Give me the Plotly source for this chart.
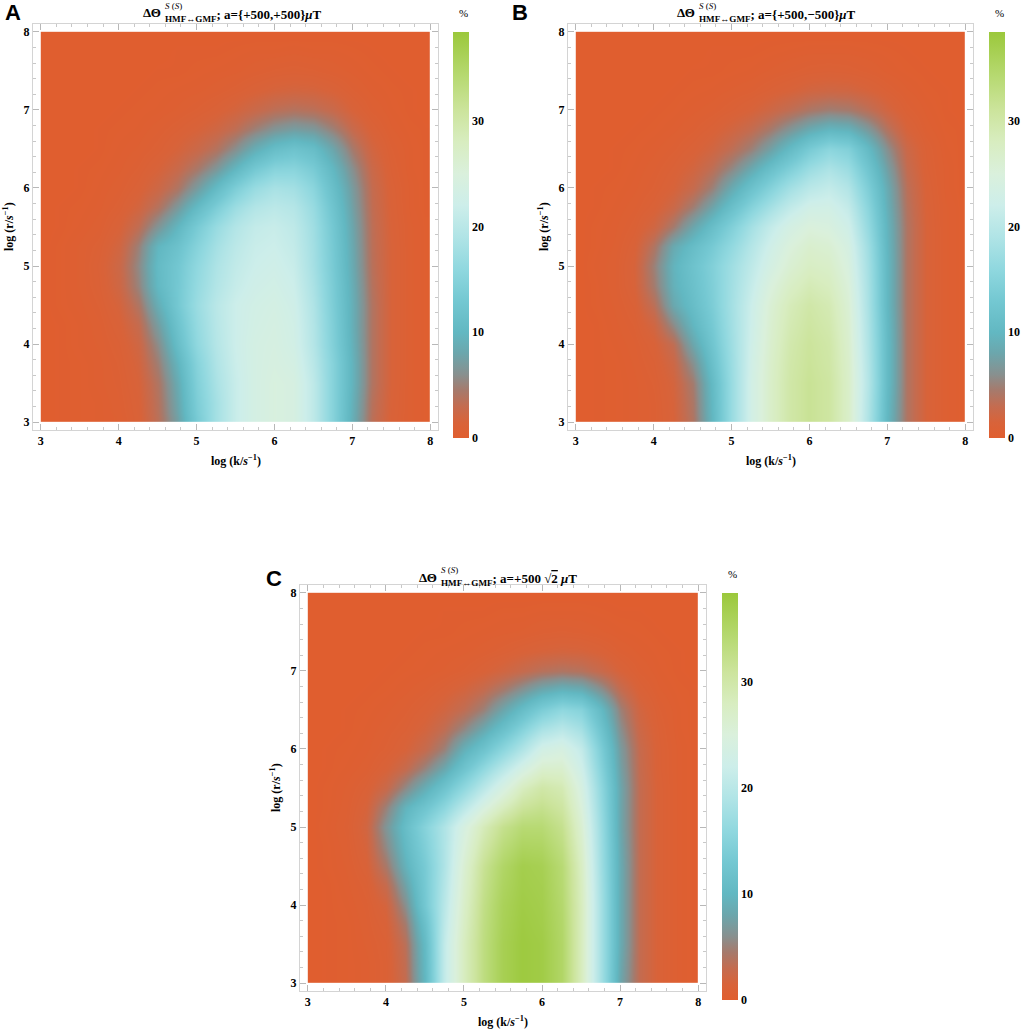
import plotly.graph_objects as go

# ---------------- data ----------------
log_k = [3.0, 3.25, 3.5, 3.75, 4.0, 4.25, 4.5, 4.75, 5.0, 5.25, 5.5,
         5.75, 6.0, 6.25, 6.5, 6.75, 7.0, 7.25, 7.5, 7.75, 8.0]
log_r = [3.0, 3.25, 3.5, 3.75, 4.0, 4.25, 4.5, 4.75, 5.0, 5.25, 5.5,
         5.75, 6.0, 6.25, 6.5, 6.75, 7.0, 7.25, 7.5, 7.75, 8.0]

# rows: log_r ascending, columns: log_k ascending ; values in %
z_A = [
    [0, 0.1, 0.2, 0.3, 0.5, 1.2, 3.5, 7.5, 13.5, 18, 21.5, 23.5, 24.5, 24, 20.5, 15, 9, 3.5, 1.3, 0.5, 0.2],
    [0, 0.1, 0.2, 0.3, 0.6, 1.3, 3.7, 8, 14, 18, 21.5, 23.5, 24.5, 24, 20.5, 15, 9.2, 3.7, 1.4, 0.5, 0.2],
    [0, 0.1, 0.2, 0.4, 0.7, 1.5, 4, 8.5, 14.5, 18.5, 21.5, 23.5, 24.5, 24, 20.5, 15, 9.5, 4, 1.5, 0.5, 0.2],
    [0, 0.1, 0.2, 0.4, 0.8, 1.8, 4.8, 9.5, 15, 19, 21.8, 23.5, 24.2, 23.5, 20, 15, 9.5, 4, 1.5, 0.5, 0.2],
    [0, 0.1, 0.3, 0.5, 1, 2.2, 5.8, 11, 16, 19.5, 22, 23.5, 24, 23, 19.5, 14.5, 9.2, 4, 1.5, 0.5, 0.2],
    [0, 0.1, 0.3, 0.6, 1.3, 2.9, 7.2, 12, 16.5, 19.8, 22, 23.2, 23.8, 22.8, 19.3, 14.3, 9, 4, 1.5, 0.5, 0.2],
    [0, 0.2, 0.4, 0.8, 1.7, 4, 8.8, 13, 17, 20, 22, 23, 23.5, 22.5, 19, 14, 9, 4, 1.5, 0.5, 0.2],
    [0, 0.2, 0.5, 1, 2.2, 5.2, 10.2, 13, 16.5, 19.3, 21.3, 22.5, 23, 22, 18.5, 13.8, 8.8, 3.8, 1.5, 0.5, 0.2],
    [0, 0.2, 0.5, 1.1, 2.4, 5.6, 10.5, 12.8, 16, 18.8, 20.8, 22, 22.5, 21.5, 18, 13.5, 8.5, 3.6, 1.5, 0.5, 0.2],
    [0, 0.2, 0.5, 0.9, 2, 5, 9.8, 11.8, 15, 18, 20.2, 21.6, 22, 21, 17.8, 13.3, 8.3, 3.5, 1.5, 0.5, 0.2],
    [0, 0.1, 0.3, 0.6, 1.4, 3.2, 6.5, 9.8, 13.5, 16.8, 19.3, 21, 21.5, 20.5, 17.5, 13, 8, 3.4, 1.4, 0.5, 0.2],
    [0, 0.1, 0.2, 0.4, 0.9, 1.9, 3.8, 6.8, 10.5, 14, 17.2, 19.3, 20.2, 19.5, 16.8, 12.3, 7.5, 3.2, 1.3, 0.4, 0.1],
    [0, 0, 0.1, 0.3, 0.6, 1.2, 2.3, 4, 7, 10.5, 14, 16.8, 18.3, 17.8, 15.5, 11.3, 7, 3, 1.2, 0.4, 0.1],
    [0, 0, 0.1, 0.2, 0.4, 0.8, 1.5, 2.6, 4.3, 6.6, 9.8, 13, 15, 15.2, 13.5, 10, 6, 2.6, 1, 0.3, 0.1],
    [0, 0, 0, 0.1, 0.3, 0.5, 0.9, 1.6, 2.5, 3.8, 6, 8.8, 11, 12, 11, 8, 4.5, 2, 0.8, 0.3, 0.1],
    [0, 0, 0, 0.1, 0.2, 0.3, 0.6, 1, 1.5, 2.2, 3.3, 5, 6.5, 7.3, 6.8, 5, 2.8, 1.3, 0.5, 0.2, 0.1],
    [0, 0, 0, 0, 0.1, 0.2, 0.3, 0.5, 0.8, 1.2, 1.8, 2.6, 3.4, 3.8, 3.5, 2.7, 1.5, 0.7, 0.3, 0.1, 0],
    [0, 0, 0, 0, 0, 0.1, 0.2, 0.3, 0.4, 0.6, 0.9, 1.3, 1.7, 1.9, 1.8, 1.4, 0.8, 0.4, 0.2, 0.1, 0],
    [0, 0, 0, 0, 0, 0, 0.1, 0.1, 0.2, 0.3, 0.4, 0.6, 0.8, 0.9, 0.8, 0.6, 0.4, 0.2, 0.1, 0, 0],
    [0, 0, 0, 0, 0, 0, 0, 0.1, 0.1, 0.1, 0.2, 0.3, 0.3, 0.4, 0.3, 0.3, 0.2, 0.1, 0, 0, 0],
    [0, 0, 0, 0, 0, 0, 0, 0, 0, 0, 0, 0, 0, 0, 0, 0, 0, 0, 0, 0, 0],
]

z_B = [
    [0, 0.1, 0.2, 0.4, 0.7, 1.5, 4, 10, 17, 23, 27, 30, 31.5, 30.5, 27, 19, 10, 4, 1.5, 0.5, 0.2],
    [0, 0.1, 0.2, 0.4, 0.7, 1.6, 4.2, 10.2, 17, 23, 27, 30, 31.5, 30.5, 27, 19.2, 10.2, 4, 1.5, 0.5, 0.2],
    [0, 0.1, 0.2, 0.4, 0.8, 1.8, 4.6, 10.5, 17, 23, 27, 30, 31.5, 30.5, 27, 19.5, 10.5, 4, 1.5, 0.5, 0.2],
    [0, 0.1, 0.2, 0.5, 1, 2.3, 6, 11.5, 17.2, 22.8, 26.8, 29.8, 31.2, 30.2, 26.8, 19.3, 10.5, 4, 1.5, 0.5, 0.2],
    [0, 0.1, 0.3, 0.6, 1.3, 3.2, 8, 12.5, 17.5, 22.5, 26.5, 29.5, 31, 30, 26.5, 19, 10.5, 4, 1.5, 0.5, 0.2],
    [0, 0.1, 0.4, 0.8, 2.1, 5.7, 9.8, 13.3, 17.8, 22.2, 26.2, 29, 30.5, 29.5, 26.2, 18.8, 10.3, 4, 1.5, 0.5, 0.2],
    [0, 0.2, 0.5, 1.1, 3.4, 8.2, 11, 14, 18, 22, 25.8, 28.5, 30, 29, 25.8, 18.5, 10, 4, 1.5, 0.5, 0.2],
    [0, 0.2, 0.6, 1.5, 4.6, 9.2, 11.6, 14.3, 17.8, 21.3, 24.8, 27.3, 28.8, 28, 25.2, 18.3, 10, 4, 1.5, 0.5, 0.2],
    [0, 0.3, 0.6, 1.6, 5, 9.5, 12, 14.5, 17.5, 20.5, 23.5, 26, 27.5, 27, 24.5, 18, 10, 4, 1.5, 0.5, 0.2],
    [0, 0.2, 0.5, 1.3, 4, 8.4, 10.9, 13.4, 16.3, 19.5, 22.5, 25, 26.5, 26, 23.8, 17.5, 9.8, 4, 1.5, 0.5, 0.2],
    [0, 0.2, 0.4, 0.9, 2.1, 4.6, 8, 11.2, 14.5, 18, 21, 23.5, 25, 24.5, 22.5, 16.5, 9.5, 4, 1.5, 0.5, 0.2],
    [0, 0.1, 0.3, 0.6, 1.2, 2.5, 4.8, 7.9, 11.5, 15, 18, 20.8, 22.8, 23, 21, 15.5, 9, 3.8, 1.4, 0.5, 0.2],
    [0, 0.1, 0.2, 0.4, 0.8, 1.5, 2.8, 5, 8.5, 11.8, 14.8, 17.8, 20, 21, 19.2, 14.2, 8.5, 3.5, 1.3, 0.4, 0.1],
    [0, 0, 0.1, 0.3, 0.6, 1.1, 1.9, 3.3, 5.5, 8.3, 11.3, 14.2, 17, 18.6, 17, 12.5, 7.4, 3, 1.1, 0.4, 0.1],
    [0, 0, 0.1, 0.2, 0.4, 0.7, 1.2, 2, 3.3, 5, 7.5, 10.5, 13.5, 15.5, 14.5, 10.5, 6, 2.5, 1, 0.3, 0.1],
    [0, 0, 0, 0.1, 0.2, 0.4, 0.7, 1.2, 2, 3, 4.5, 6.5, 8.5, 9.8, 9.3, 6.8, 3.8, 1.6, 0.6, 0.2, 0.1],
    [0, 0, 0, 0, 0.1, 0.2, 0.4, 0.6, 1, 1.5, 2.3, 3.2, 4.2, 4.8, 4.5, 3.4, 2, 0.9, 0.4, 0.1, 0],
    [0, 0, 0, 0, 0, 0.1, 0.2, 0.3, 0.5, 0.7, 1.1, 1.5, 2, 2.2, 2.1, 1.6, 1, 0.5, 0.2, 0.1, 0],
    [0, 0, 0, 0, 0, 0, 0.1, 0.1, 0.2, 0.3, 0.5, 0.7, 0.9, 1, 0.9, 0.7, 0.4, 0.2, 0.1, 0, 0],
    [0, 0, 0, 0, 0, 0, 0, 0.1, 0.1, 0.1, 0.2, 0.3, 0.4, 0.4, 0.4, 0.3, 0.2, 0.1, 0, 0, 0],
    [0, 0, 0, 0, 0, 0, 0, 0, 0, 0, 0, 0, 0, 0, 0, 0, 0, 0, 0, 0, 0],
]

z_C = [
    [0, 0.1, 0.2, 0.4, 0.9, 3, 10, 21, 28, 33, 36.5, 38, 37.5, 35, 28, 18, 8, 3, 1.2, 0.4, 0.1],
    [0, 0.1, 0.2, 0.4, 0.9, 3.2, 10.2, 21, 28, 33, 36.5, 38, 37.5, 35, 28, 18, 8.2, 3, 1.2, 0.4, 0.1],
    [0, 0.1, 0.2, 0.5, 1, 3.5, 10.5, 21, 28, 33, 36.5, 38, 37.5, 35, 28, 18, 8.5, 3, 1.2, 0.4, 0.1],
    [0, 0.1, 0.2, 0.6, 1.3, 4.5, 11.5, 20.5, 27.5, 32.8, 36.2, 37.8, 37.2, 34.8, 28, 18, 8.5, 3, 1.2, 0.4, 0.1],
    [0, 0.1, 0.3, 0.7, 1.8, 6, 13, 20, 27, 32.5, 36, 37.5, 37, 34.5, 28, 18, 8.5, 3, 1.2, 0.4, 0.1],
    [0, 0.1, 0.4, 0.9, 2.8, 7.6, 13.3, 19.5, 26.5, 32, 35.5, 37.2, 36.8, 34.2, 27.8, 17.8, 8.5, 3, 1.2, 0.4, 0.1],
    [0, 0.2, 0.5, 1.3, 4.3, 9.3, 13.5, 19, 26, 31.5, 35, 37, 36.5, 34, 27.5, 17.5, 8.5, 3, 1.2, 0.4, 0.1],
    [0, 0.2, 0.6, 1.7, 5.6, 10.3, 14.3, 19, 25, 30, 33.5, 35.5, 35.3, 33, 26.8, 17.3, 8.3, 3, 1.2, 0.4, 0.1],
    [0, 0.3, 0.7, 2, 6.5, 11, 15, 19, 24, 28.5, 32, 34, 34, 32, 26, 17, 8, 3, 1.2, 0.4, 0.1],
    [0, 0.2, 0.6, 1.6, 5, 9.5, 12.3, 15.7, 20, 24.3, 28, 31, 32, 30.5, 25, 16.5, 8, 3, 1.2, 0.4, 0.1],
    [0, 0.2, 0.5, 1.1, 2.6, 5.6, 8.8, 12.2, 16, 20, 24, 28, 30, 29, 24, 16, 8, 3, 1.2, 0.4, 0.1],
    [0, 0.1, 0.3, 0.6, 1.4, 2.8, 5.2, 8.2, 12.2, 16, 19.8, 23.5, 26.5, 26.5, 22.5, 15, 7.5, 2.9, 1.1, 0.4, 0.1],
    [0, 0.1, 0.2, 0.4, 0.8, 1.5, 2.8, 5, 9, 12, 15.5, 19, 23, 24, 21, 14, 7, 2.8, 1.1, 0.4, 0.1],
    [0, 0, 0.1, 0.3, 0.6, 1, 1.8, 3.2, 5.5, 8.3, 11.5, 15, 18.5, 20, 18, 12.3, 6, 2.4, 1, 0.3, 0.1],
    [0, 0, 0.1, 0.2, 0.4, 0.7, 1.2, 2, 3.2, 5, 8, 11, 14, 16, 15, 10.5, 5, 2, 0.8, 0.3, 0.1],
    [0, 0, 0, 0.1, 0.2, 0.4, 0.7, 1.2, 1.9, 3, 4.6, 6.5, 8.5, 9.6, 9, 6.3, 3.1, 1.3, 0.5, 0.2, 0.1],
    [0, 0, 0, 0, 0.1, 0.2, 0.3, 0.5, 0.8, 1.3, 2, 2.8, 3.6, 4, 3.7, 2.7, 1.5, 0.7, 0.3, 0.1, 0],
    [0, 0, 0, 0, 0, 0.1, 0.2, 0.3, 0.4, 0.6, 0.9, 1.3, 1.6, 1.8, 1.7, 1.3, 0.7, 0.4, 0.2, 0.1, 0],
    [0, 0, 0, 0, 0, 0, 0.1, 0.1, 0.2, 0.3, 0.4, 0.5, 0.7, 0.8, 0.7, 0.5, 0.3, 0.2, 0.1, 0, 0],
    [0, 0, 0, 0, 0, 0, 0, 0.1, 0.1, 0.1, 0.2, 0.2, 0.3, 0.3, 0.3, 0.2, 0.1, 0.1, 0, 0, 0],
    [0, 0, 0, 0, 0, 0, 0, 0, 0, 0, 0, 0, 0, 0, 0, 0, 0, 0, 0, 0, 0],
]

tick_vals = [3, 4, 5, 6, 7, 8]
cbar_ticks = [0, 10, 20, 30]
z_max = 38.4

# colour stops (value in %, colour)
cmap_values = [0, 1.5, 3, 4.5, 6, 8, 10, 13, 16, 19, 22, 25, 28, 31, 34, 38.4]
cmap_colors = ["#E05E2F", "#D8633A", "#C46C50", "#A67A6C", "#88908F", "#6CA6AC",
               "#62B8C2", "#74C8D2", "#90D8DF", "#B0E4E6", "#CDEEEA", "#DAF0DC",
               "#D8EDC0", "#CCE49C", "#B8DA74", "#9BC83B"]

titles_right = ["; a={+500,+500}<i>μ</i>T", "; a={+500,−500}<i>μ</i>T",
                "; a=+500 √<span style='text-decoration:overline'>2</span> <i>μ</i>T"]
panel_letters = ["A", "B", "C"]

# ---------------- figure ----------------
W, H = 1024, 1029
SERIF = "Liberation Serif"


def px_x(p):
    return p / W


def px_y(p):
    return 1 - p / H


def edges(c):
    mids = [(c[i] + c[i + 1]) / 2 for i in range(len(c) - 1)]
    return [c[0]] + mids + [c[-1]]


colorscale = [[v / z_max, c] for v, c in zip(cmap_values, cmap_colors)]

# panel geometry in pixels: frame left, right, top, bottom ; colorbar left, bottom, top
panels = [
    dict(z=z_A, fl=33, fr=438, ft=24, fb=430, cbx=453, cbb=438, cbt=32, split=163, ty=13),
    dict(z=z_B, fl=568, fr=973, ft=24, fb=430, cbx=989, cbb=438, cbt=32, split=697, ty=13),
    dict(z=z_C, fl=300, fr=706, ft=585, fb=991, cbx=722, cbb=1000, cbt=593, split=439, ty=577),
]
letter_pos = [(13, 13), (520, 13), (274, 578)]

fig = go.Figure()
annotations = []
kx = edges(log_k)
ry = edges(log_r)

for i, p in enumerate(panels):
    n = "" if i == 0 else str(i + 1)
    fig.add_trace(go.Heatmap(
        x=kx, y=ry, z=p["z"], zsmooth="best", zmin=0, zmax=z_max,
        colorscale=colorscale, xaxis="x" + n, yaxis="y" + n,
        hoverinfo="skip",
        colorbar=dict(
            x=px_x(p["cbx"]), xanchor="left", xpad=0,
            y=px_y(p["cbb"]), yanchor="bottom", ypad=0,
            len=p["cbb"] - p["cbt"], lenmode="pixels",
            thickness=16, outlinewidth=0, ticks="",
            tickvals=cbar_ticks, ticklabelposition="outside",
            tickfont=dict(family=SERIF, size=12, color="black", weight="bold"),
        ),
    ))
    axcommon = dict(
        range=[2.9, 8.1], tickvals=tick_vals, showgrid=False, zeroline=False,
        showline=True, linecolor="#d4d4d4", linewidth=1, mirror="allticks",
        ticks="inside", ticklen=6, tickcolor="#b8b8b8", tickwidth=1,
        minor=dict(dtick=0.2, tick0=3, ticks="inside", ticklen=3,
                   tickcolor="#c8c8c8", tickwidth=1, showgrid=False),
        tickfont=dict(family=SERIF, size=12, color="black", weight="bold"),
    )
    fig.update_layout(**{
        "xaxis" + n: dict(axcommon, anchor="y" + n,
                          domain=[px_x(p["fl"]), px_x(p["fr"])]),
        "yaxis" + n: dict(axcommon, anchor="x" + n,
                          domain=[px_y(p["fb"]), px_y(p["ft"])]),
    })
    cx = (p["fl"] + p["fr"]) / 2
    cy = (p["ft"] + p["fb"]) / 2
    # axis titles
    annotations.append(dict(
        text="log (k/<i>s</i><sup>−1</sup>)", x=px_x(cx), y=px_y(p["fb"] + 30),
        xref="paper", yref="paper", showarrow=False, xanchor="center", yanchor="middle",
        font=dict(family=SERIF, size=12, color="black", weight="bold")))
    annotations.append(dict(
        text="log (r/<i>s</i><sup>−1</sup>)", x=px_x(p["fl"] - 25), y=px_y(cy),
        xref="paper", yref="paper", showarrow=False, xanchor="center", yanchor="middle",
        textangle=-90,
        font=dict(family=SERIF, size=12, color="black", weight="bold")))
    # title pieces
    annotations.append(dict(
        text="ΔΘ", x=px_x(p["split"]), y=px_y(p["ty"]),
        xref="paper", yref="paper", showarrow=False, xanchor="right", yanchor="middle",
        font=dict(family=SERIF, size=13, color="black", weight="bold")))
    annotations.append(dict(
        text="<sub>HMF↔GMF</sub>" + titles_right[i], x=px_x(p["split"]), y=px_y(p["ty"] + 2),
        xref="paper", yref="paper", showarrow=False, xanchor="left", yanchor="middle",
        font=dict(family=SERIF, size=13, color="black", weight="bold")))
    annotations.append(dict(
        text="<i>S</i> (<i>S</i>)", x=px_x(p["split"]), y=px_y(p["ty"] - 7),
        xref="paper", yref="paper", showarrow=False, xanchor="left", yanchor="middle",
        font=dict(family=SERIF, size=9, color="black")))
    # percent label
    annotations.append(dict(
        text="%", x=px_x(p["cbx"] + 10), y=px_y(p["cbt"] - 19),
        xref="paper", yref="paper", showarrow=False, xanchor="center", yanchor="middle",
        font=dict(family=SERIF, size=11, color="black")))
    # panel letter
    lx, ly = letter_pos[i]
    annotations.append(dict(
        text="<b>" + panel_letters[i] + "</b>", x=px_x(lx), y=px_y(ly),
        xref="paper", yref="paper", showarrow=False, xanchor="center", yanchor="middle",
        font=dict(family="Liberation Sans", size=22, color="black")))

fig.update_layout(
    width=W, height=H, autosize=False,
    margin=dict(l=0, r=0, t=0, b=0),
    paper_bgcolor="white", plot_bgcolor="white",
    annotations=annotations, showlegend=False,
)

fig.write_html("out.html",
               config={"displayModeBar": False, "staticPlot": True},
               post_script="document.body.style.margin='0px';"
                           "document.body.style.overflow='hidden';")
